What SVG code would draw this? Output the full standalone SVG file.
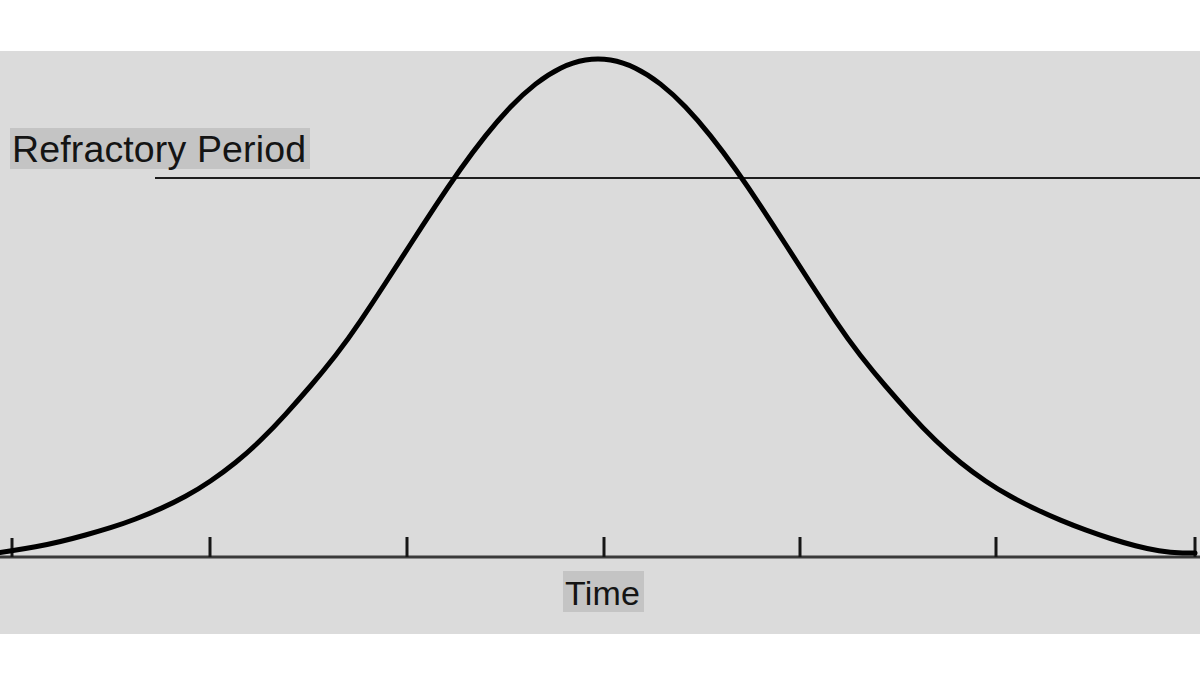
<svg xmlns="http://www.w3.org/2000/svg" width="1200" height="675" viewBox="0 0 1200 675">
  <style>
    .lbl { font-family: "Liberation Sans", Arial, sans-serif; fill: #141414; }
    .hl { fill: #c4c4c4; }
    .tick { stroke: #161616; stroke-width: 3; }
  </style>
  <rect x="0" y="0" width="1200" height="675" fill="#ffffff"/>
  <rect id="plot-bg" x="0" y="51" width="1200" height="583" fill="#dbdbdb"/>
  <g id="threshold">
    <line x1="155" y1="178" x2="1200" y2="178" stroke="#1e1e1e" stroke-width="2"/>
  </g>
  <g id="axis">
    <line x1="0" y1="557" x2="1200" y2="557" stroke="#3a3a3a" stroke-width="3"/>
    <line class="tick" x1="12" y1="538" x2="12" y2="557"/>
    <line class="tick" x1="210" y1="537" x2="210" y2="557"/>
    <line class="tick" x1="407" y1="537" x2="407" y2="557"/>
    <line class="tick" x1="604" y1="537" x2="604" y2="557"/>
    <line class="tick" x1="800" y1="537" x2="800" y2="557"/>
    <line class="tick" x1="996" y1="537" x2="996" y2="557"/>
    <line class="tick" x1="1195" y1="537" x2="1195" y2="557"/>
  </g>
  <g id="curve">
    <path fill="none" stroke="#000" stroke-width="5" stroke-linejoin="round" stroke-linecap="round"
      d="M0,552.5 L11.5,550.75 Q23,549 35.5,546.75 Q48,544.5 60.5,541.5 Q73,538.5 85.5,535 Q98,531.5 110.5,527.65 Q123,523.8 135.5,519 Q148,514.2 160.5,508.65 Q173,503.1 185.5,496.3 Q198,489.5 210.5,481 Q223,472.5 235.5,462.45 Q248,452.4 260.5,440.3 Q273,428.2 285.5,414.35 Q298,400.5 310.5,386 Q323,371.5 335.5,355.5 Q348,339.5 360.5,320.9 Q373,302.3 385.5,283 Q398,263.7 410.5,244.25 Q423,224.8 435.5,205.85 Q448,186.9 460.5,169.25 Q473,151.6 485.5,135.85 Q498,120.1 510.5,107 Q523,93.9 535.5,84.1 Q548,74.3 560.5,68.2 Q573,62.1 585.5,60.05 Q598,58 610.5,60.05 Q623,62.1 635.5,68.2 Q648,74.3 660.5,84.1 Q673,93.9 685.5,107 Q698,120.1 710.5,135.85 Q723,151.6 735.5,169.25 Q748,186.9 760.5,205.85 Q773,224.8 785.5,244.25 Q798,263.7 810.5,283 Q823,302.3 835.5,320.9 Q848,339.5 860.5,355.5 Q873,371.5 885.5,386 Q898,400.5 910.5,414.35 Q923,428.2 935.5,440.3 Q948,452.4 960.5,462.45 Q973,472.5 985.5,481 Q998,489.5 1010.5,496.3 Q1023,503.1 1035.5,509 Q1048,514.9 1060.5,520.1 Q1073,525.3 1085.5,529.9 Q1098,534.5 1110.5,538.5 Q1123,542.5 1135.5,545.75 Q1148,549 1159,550.75 Q1170,552.5 1182.5,553 L1195,553"/>
  </g>
  <g id="label-refractory">
    <rect class="hl" x="10" y="128" width="300" height="41"/>
    <text class="lbl" x="12" y="162" font-size="37.5" textLength="294" lengthAdjust="spacing">Refractory Period</text>
  </g>
  <g id="label-time">
    <rect class="hl" x="563" y="571" width="81" height="41"/>
    <text class="lbl" x="565" y="605" font-size="34" textLength="75" lengthAdjust="spacing">Time</text>
  </g>
</svg>
